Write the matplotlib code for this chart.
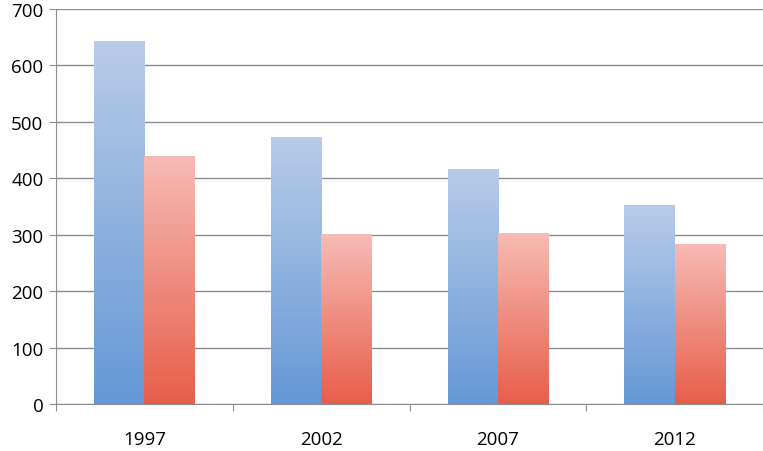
import numpy as np
import matplotlib.pyplot as plt
from matplotlib.colors import LinearSegmentedColormap

# data
years = ['1997', '2002', '2007', '2012']
blue_vals = [643, 472, 416, 351]
red_vals = [438, 300, 303, 282]

blue_cmap = LinearSegmentedColormap.from_list('b', ['#6598d4', '#b8cce9'])
red_cmap = LinearSegmentedColormap.from_list('r', ['#e75e4a', '#f7bbb5'])

plt.rcParams['font.family'] = ['Open Sans', 'DejaVu Sans']

fig = plt.figure(figsize=(7.63, 4.52), dpi=100)
ax = fig.add_axes([56/763, 1-405/452, 1-56/763, 395/452])

x = np.arange(len(years))
w = 0.285
grad = np.linspace(0, 1, 256).reshape(-1, 1)

for vals, off, cmap in [(blue_vals, -w/2, blue_cmap), (red_vals, w/2, red_cmap)]:
    bars = ax.bar(x + off, vals, w, color='none', edgecolor='none', zorder=2)
    for b in bars:
        x0 = b.get_x()
        h = b.get_height()
        ax.imshow(grad, extent=[x0, x0 + b.get_width(), 0, h], origin='lower',
                  aspect='auto', cmap=cmap, zorder=2)

ax.set_xlim(-0.5, 3.5)
ax.set_ylim(0, 700)
ax.set_yticks(range(0, 701, 100))
ax.yaxis.grid(True, color='#8c8c8c', linewidth=1)
ax.set_axisbelow(True)

ax.set_xticks(np.arange(-0.5, 4, 1))
ax.set_xticklabels([])
ax.set_xticks(x, minor=True)
ax.set_xticklabels(years, minor=True)
ax.tick_params(axis='x', which='minor', length=0, pad=19, labelsize=13.5)
ax.tick_params(axis='x', which='major', length=5, color='#8c8c8c')
ax.tick_params(axis='y', length=5, color='#8c8c8c', labelsize=13.5, pad=4)

for s in ['top', 'right']:
    ax.spines[s].set_visible(False)
for s in ['left', 'bottom']:
    ax.spines[s].set_color('#8c8c8c')

fig.savefig('out.png', dpi=100)
